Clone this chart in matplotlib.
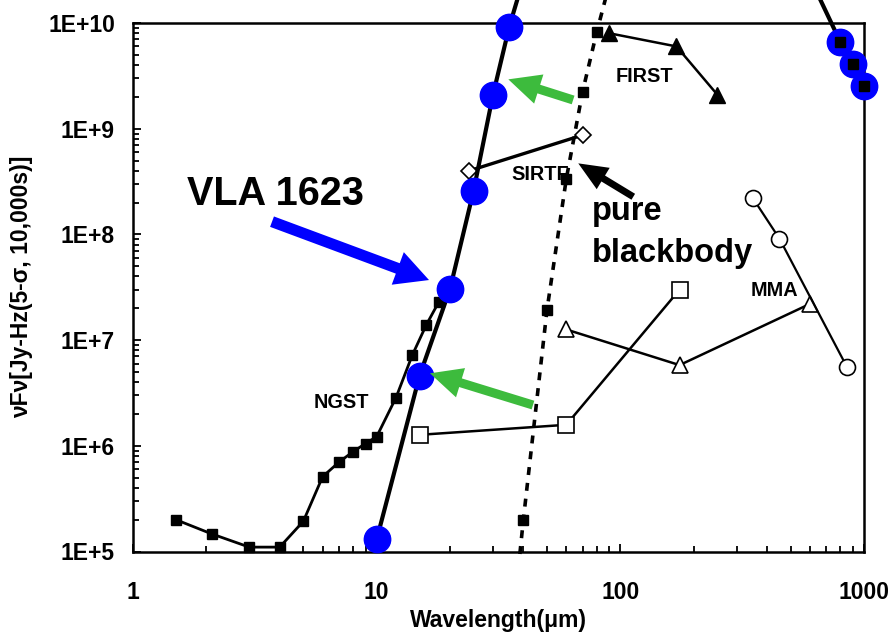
import matplotlib
matplotlib.use('Agg')
import matplotlib.pyplot as plt
import numpy as np
from matplotlib.patches import FancyArrowPatch
from matplotlib.ticker import FixedLocator, LogLocator, NullFormatter, FuncFormatter
from matplotlib.transforms import Bbox, TransformedBbox

plt.rcParams['font.family'] = ['Liberation Sans', 'DejaVu Sans']
plt.rcParams['font.weight'] = 'bold'

# NGST sensitivity (small filled squares)
ngst_wl = [1.5, 2.1, 3, 4, 5, 6, 7, 8, 9, 10, 12, 14, 16, 18, 20]
ngst_flux = [2.0e5, 1.47e5, 1.1e5, 1.1e5, 1.93e5, 5.1e5, 7.0e5, 8.8e5,
             1.05e6, 1.22e6, 2.85e6, 7.2e6, 1.4e7, 2.3e7, 2.8e7]

# VLA 1623 SED (blue circles); 40 and 500 um lie above the plot
vla_wl = [10, 15, 20, 25, 30, 35, 40, 500, 800, 900, 1000]
vla_flux = [1.3e5, 4.6e6, 3.05e7, 2.6e8, 2.08e9, 9.2e9, 2.6e10, 6.5e10,
            6.6e9, 4.07e9, 2.55e9]

# pure blackbody (dotted, small squares)
bb_wl = [35, 40, 50, 60, 70, 80, 90]
bb_flux = [1.0e4, 2.0e5, 1.93e7, 3.34e8, 2.24e9, 8.2e9, 2.3e10]
bb_far_wl = [800, 900, 1000]
bb_far_flux = [6.6e9, 4.07e9, 2.55e9]

first_wl = [90, 170, 250]
first_flux = [8.0e9, 6.0e9, 2.1e9]

sirtf_wl = [24, 70]
sirtf_flux = [4.0e8, 8.7e8]

sq_wl = [15, 60, 175]
sq_flux = [1.27e6, 1.58e6, 3.0e7]

tri_wl = [60, 175, 600]
tri_flux = [1.26e7, 5.8e6, 2.2e7]

mma_wl = [350, 450, 850]
mma_flux = [2.2e8, 9.1e7, 5.6e6]

fig = plt.figure(figsize=(8.92, 6.32), dpi=100)
ax = fig.add_axes([133 / 892, 1 - 551.5 / 632, 731 / 892, 528.5 / 632])
ax.set_xscale('log')
ax.set_yscale('log')
ax.set_xlim(1, 1000)
ax.set_ylim(1e5, 1e10)

ax.plot(ngst_wl, ngst_flux, '-s', color='black', lw=2, ms=6.5, zorder=3, clip_on=False)
ax.plot(sq_wl, sq_flux, '-s', color='black', mfc='white', lw=1.8, ms=12, mew=1.2, zorder=3, clip_on=False)
ax.plot(tri_wl, tri_flux, '-^', color='black', mfc='white', lw=1.8, ms=12, mew=1.2, zorder=3, clip_on=False)
ax.plot(mma_wl, mma_flux, '-o', color='black', mfc='white', lw=1.6, ms=11.5, mew=1.2, zorder=3, clip_on=False)
ax.plot(sirtf_wl, sirtf_flux, '-D', color='black', mfc='white', lw=2.4, ms=8.3, mew=1.2, zorder=3, clip_on=False)
ax.plot(first_wl, first_flux, '-^', color='black', lw=1.8, ms=12, zorder=3, clip_on=False)
ax.plot(vla_wl, vla_flux, '-o', color='black', mfc='blue', mec='blue', lw=3, ms=19, zorder=4, clip_on=False)

bb_line, = ax.plot(bb_wl, bb_flux, 's', ls=(0, (2.2, 2.2)), color='black', lw=2.6, ms=6.5, zorder=5)
bb_line.set_clip_box(TransformedBbox(Bbox([[-0.05, -0.016], [1.05, 1.2]]), ax.transAxes))
ax.plot(bb_far_wl, bb_far_flux, 's', color='black', ms=6.5, zorder=5, clip_on=False)

# arrows (tail -> tip, data coords)
arrows = [((3.72, 1.32e8), (16.4, 3.7e7), 'blue', 8, 25, 24),
          ((64, 1.87e9), (34.7, 2.93e9), '#3dbb3d', 6.5, 22, 23),
          ((43.8, 2.43e6), (16.55, 4.85e6), '#3dbb3d', 6.5, 22, 23),
          ((113, 2.27e8), (67.2, 4.7e8), 'black', 5, 18, 21)]
for tail, tip, col, tw, hw, hl in arrows:
    ar = FancyArrowPatch(tail, tip, transform=ax.transData,
                         arrowstyle='simple,head_length=%g,head_width=%g,tail_width=%g' % (hl, hw, tw),
                         mutation_scale=1, shrinkA=0, shrinkB=0, color=col, lw=0,
                         zorder=6, clip_on=False)
    ax.add_patch(ar)

ax.text(1.66, 1.9e8, 'VLA 1623', fontsize=28.5, va='baseline', zorder=2)
ax.text(76.3, 1.37e8, 'pure', fontsize=23.5, va='baseline', zorder=2)
ax.text(76.3, 5.52e7, 'blackbody', fontsize=23.5, va='baseline', zorder=2)
ax.text(95.9, 2.77e9, 'FIRST', fontsize=14.3, va='baseline', zorder=2)
ax.text(35.8, 3.27e8, 'SIRTF', fontsize=14.3, va='baseline', zorder=2)
ax.text(343.6, 2.61e7, 'MMA', fontsize=14.3, va='baseline', zorder=2)
ax.text(5.5, 2.29e6, 'NGST', fontsize=14.3, va='baseline', zorder=2)

ax.xaxis.set_major_locator(FixedLocator([1, 10, 100, 1000]))
ax.xaxis.set_major_formatter(FuncFormatter(lambda v, p: '%d' % round(v)))
ax.yaxis.set_major_locator(FixedLocator([1e5, 1e6, 1e7, 1e8, 1e9, 1e10]))
ax.yaxis.set_major_formatter(FuncFormatter(lambda v, p: '1E+%d' % round(np.log10(v))))
for axis in (ax.xaxis, ax.yaxis):
    axis.set_minor_locator(LogLocator(base=10, subs=np.arange(2, 10)))
    axis.set_minor_formatter(NullFormatter())
ax.tick_params(which='both', direction='in', top=False, right=False, width=1.3,
               labelsize=16.5)
ax.tick_params(which='major', length=6)
ax.tick_params(which='minor', length=4.5)
ax.tick_params(axis='x', which='major', pad=21)
ax.tick_params(axis='y', which='major', pad=13)
for s in ax.spines.values():
    s.set_linewidth(1.8)

ax.set_xlabel('Wavelength(\u03bcm)', fontsize=16.5, fontweight='bold')
ax.xaxis.set_label_coords(0.5, -0.109)
ax.set_ylabel('\u03bdF\u03bd[Jy-Hz(5-\u03c3, 10,000s)]', fontsize=16.5, fontweight='bold')
ax.yaxis.set_label_coords(-0.137, 0.5)

fig.savefig('out.png', dpi=100)
